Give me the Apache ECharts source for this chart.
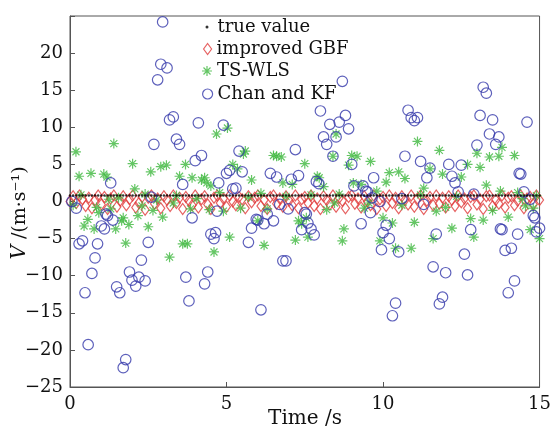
<!DOCTYPE html>
<html>
<head>
<meta charset="utf-8">
<script src="https://cdn.jsdelivr.net/npm/echarts@6/dist/echarts.min.js"></script>
<style>
  html, body { margin: 0; padding: 0; background: #fff; }
  #chart { width: 554px; height: 430px; }
</style>
</head>
<body>
<div id="chart"></div>
<script>
// time grid, 0.1 s step from 0 to 15 s
let timeStep = 0.1;
let nSteps = 151;
let trueValue = 0.8;

// improved GBF estimates, one per time step
let gbfValues = [
  0.0, 0.7, -0.2, 0.8, 0.3, -0.6, 0.5, -0.9, 0.2, 0.8,
  -0.4, 0.6, -1.0, 0.4, 0.8, -0.7, 0.1, 0.7, -0.5, 0.3,
  0.8, -0.8, -0.2, 0.6, -1.1, 0.5, 0.8, -0.3, 0.4, -0.9,
  0.7, 0.2, -0.6, 0.8, -0.2, 0.5, -1.0, 0.6, 0.1, -0.5,
  0.8, -0.8, 0.3, 0.7, -0.4, -1.0, 0.5, 0.8, -0.2, 0.4,
  -0.7, 0.8, 0.0, -0.5, 0.6, 0.3, -0.9, 0.7, -0.1, 0.5,
  0.8, -0.6, 0.2, -1.0, 0.6, 0.8, -0.3, 0.4, -0.7, 0.7,
  0.1, -0.5, 0.8, -0.9, 0.3, 0.6, -0.2, 0.8, -0.6, 0.4,
  -1.0, 0.7, 0.2, -0.4, 0.8, -0.7, 0.5, 0.1, -0.9, 0.6,
  0.8, -0.3, 0.4, -0.8, 0.7, 0.0, -0.5, 0.8, -1.0, 0.3,
  0.6, -0.6, 0.8, -0.2, 0.5, -0.9, 0.7, 0.2, -0.4, 0.8,
  -0.7, 0.4, 0.8, -1.0, 0.1, 0.6, -0.5, 0.8, -0.3, 0.5,
  -0.8, 0.7, 0.2, -0.6, 0.8, -0.1, 0.4, -0.9, 0.6, 0.8,
  -0.4, 0.3, -1.0, 0.7, 0.8, -0.6, 0.2, -0.3, 0.8, -0.8,
  0.5, 0.7, -0.5, 0.1, 0.8, -0.9, 0.4, 0.6, -0.4, 0.8,
  0.2
];

// TS-WLS estimates [time, value]
let tswlsPoints = [
  [0.1, -0.5], [0.19, 6.7], [0.29, 3.4], [0.35, 0.9], [0.45, -3.3], [0.57, -2.4], [0.67, 3.8],
  [0.77, -3.7], [0.85, -0.8], [0.92, -1.5], [1.08, 3.7], [1.18, 3.3], [1.24, 0.3], [1.3, -1.0],
  [1.4, 7.8], [1.46, -3.7], [1.55, 0.5], [1.65, -2.6], [1.7, -2.2], [1.78, -5.6], [1.88, -3.1],
  [2.0, 5.1], [2.07, 1.7], [2.17, -1.9], [2.3, -0.6], [2.4, 1.0], [2.5, -3.4], [2.58, 4.0],
  [2.65, -1.2], [2.77, 0.2], [2.9, 4.7], [2.96, -2.1], [3.08, 4.9], [3.18, -7.5], [3.3, -0.2],
  [3.4, 0.8], [3.5, 3.4], [3.6, -5.7], [3.69, 5.0], [3.75, -5.7], [3.85, -1.0], [3.9, 3.2],
  [4.05, 0.4], [4.2, 2.9], [4.3, 3.2], [4.37, 2.5], [4.45, -1.1], [4.5, 2.1], [4.6, -6.8],
  [4.68, 9.1], [4.78, 1.2], [4.9, -1.3], [5.03, 9.9], [5.1, -4.8], [5.2, 5.0], [5.35, 4.4],
  [5.45, -0.9], [5.54, 6.4], [5.6, 6.8], [5.7, 0.6], [5.8, 2.9], [6.0, -2.6], [6.1, 1.1],
  [6.2, -5.9], [6.3, -1.0], [6.5, 6.2], [6.6, 6.1], [6.75, 6.0], [6.8, 2.5], [6.9, 0.7],
  [7.1, 2.3], [7.2, -5.2], [7.3, -2.6], [7.4, -3.0], [7.5, 5.1], [7.55, -2.2], [7.6, -4.8],
  [7.7, 0.9], [7.9, 3.4], [7.96, 3.2], [8.1, 2.0], [8.2, -1.1], [8.4, 6.1], [8.45, -0.2],
  [8.5, 9.1], [8.6, 1.0], [8.7, -5.3], [8.75, -3.7], [8.9, 4.9], [9.0, 6.2], [9.05, 2.5],
  [9.17, 6.1], [9.3, 2.3], [9.4, -0.9], [9.55, -0.2], [9.6, 5.4], [9.8, 1.4], [9.9, -5.3],
  [10.0, -2.2], [10.1, 2.6], [10.2, 3.9], [10.3, -2.9], [10.4, -6.3], [10.5, 4.0], [10.6, -0.5],
  [10.7, 3.1], [10.9, -6.3], [11.0, -2.8], [11.1, 8.1], [11.2, 0.9], [11.3, 1.8], [11.5, 4.4],
  [11.6, -5.0], [11.7, -1.3], [11.8, 6.9], [11.9, 3.7], [12.0, -0.8], [12.2, -3.6], [12.35, 0.7],
  [12.5, 3.3], [12.7, 5.0], [12.8, -2.3], [12.9, -4.8], [13.0, 6.5], [13.1, 4.6], [13.2, -2.5],
  [13.3, 2.2], [13.4, 6.0], [13.5, -1.2], [13.7, 6.1], [13.75, 1.4], [13.8, 7.3], [14.0, -2.1],
  [14.2, 6.2], [14.3, 1.2], [14.45, 0.4], [14.55, -0.6], [14.7, -3.8], [14.8, -0.9], [14.9, 0.8],
  [15.0, -5.0]
];

// Chan and KF estimates [time, value]
let chanPoints = [
  [0.06, 0.0], [0.2, -0.9], [0.29, -5.7], [0.4, -5.3], [0.48, -12.3], [0.58, -19.3], [0.7, -9.7],
  [0.8, -7.6], [0.88, -5.7], [1.0, -3.3], [1.1, -3.7], [1.15, -1.7], [1.2, -1.9], [1.3, 2.5],
  [1.37, -2.5], [1.49, -11.5], [1.59, -12.3], [1.7, -22.4], [1.78, -21.3], [1.9, -9.5], [1.98, -10.6],
  [2.1, -11.4], [2.2, -10.2], [2.28, -7.9], [2.4, -10.7], [2.5, -5.5], [2.6, 0.6], [2.68, 7.7],
  [2.8, 16.4], [2.9, 18.5], [2.96, 24.2], [3.1, 18.0], [3.18, 11.0], [3.3, 11.4], [3.4, 8.4],
  [3.5, 7.7], [3.6, 2.3], [3.7, -10.2], [3.8, -13.4], [3.9, -2.2], [4.0, 5.5], [4.1, 10.6],
  [4.2, 6.2], [4.3, -11.1], [4.4, -9.5], [4.5, -4.4], [4.6, -5.0], [4.65, -4.2], [4.7, -1.3],
  [4.75, 2.5], [4.9, 10.3], [5.0, 3.8], [5.1, 4.2], [5.2, 1.7], [5.3, 1.8], [5.4, 6.8],
  [5.5, 4.0], [5.7, -5.5], [5.8, -3.6], [5.95, -2.4], [6.0, -2.5], [6.1, -14.6], [6.2, -3.0],
  [6.3, -1.7], [6.4, 3.8], [6.5, -2.6], [6.6, 3.3], [6.7, -0.4], [6.8, -8.0], [6.9, -8.0],
  [6.97, -1.0], [7.07, 3.0], [7.2, 7.0], [7.3, 3.5], [7.4, -3.8], [7.5, -1.5], [7.55, -1.7],
  [7.6, -2.9], [7.7, -3.7], [7.8, -4.5], [7.87, 2.7], [7.95, 2.4], [8.0, 12.2], [8.1, 8.7],
  [8.2, 7.7], [8.3, 10.4], [8.4, 6.1], [8.5, 8.7], [8.6, 10.7], [8.7, 16.2], [8.8, 11.6],
  [8.9, 9.8], [9.0, 5.0], [9.07, 2.1], [9.3, -3.0], [9.36, 2.1], [9.45, 1.4], [9.5, 1.3],
  [9.6, -1.5], [9.65, 0.5], [9.7, 3.2], [9.9, 0.0], [9.95, -6.5], [10.0, -4.2], [10.1, -3.2],
  [10.2, -5.0], [10.3, -15.4], [10.4, -13.7], [10.5, -6.8], [10.6, 0.4], [10.7, 6.1], [10.8, 12.3],
  [10.9, 11.3], [11.0, 10.9], [11.1, 11.3], [11.2, 5.4], [11.3, -0.4], [11.4, 3.2], [11.5, 4.5],
  [11.6, -8.8], [11.7, -4.4], [11.8, -13.8], [11.9, -12.9], [12.0, -9.6], [12.1, 5.0], [12.2, 3.4],
  [12.3, 2.5], [12.4, 1.3], [12.5, 4.9], [12.6, -7.1], [12.7, -9.9], [12.8, -3.8], [12.9, 1.0],
  [13.0, 7.6], [13.1, 11.6], [13.2, 15.4], [13.3, 14.6], [13.4, 9.1], [13.5, 11.0], [13.6, 7.7],
  [13.7, 8.7], [13.75, -3.7], [13.8, -3.8], [13.9, -6.6], [14.0, -12.3], [14.1, -6.3], [14.2, -10.7],
  [14.3, -4.4], [14.35, 3.8], [14.4, 3.7], [14.5, 1.3], [14.6, 10.7], [14.7, 0.3], [14.8, -1.9],
  [14.85, -2.2], [14.9, -4.1], [15.0, -3.6]
];

let xTicks = [0, 5, 10, 15];
let yTicks = [-25, -20, -15, -10, -5, 0, 5, 10, 15, 20];

let names = ['true value', 'improved GBF', 'TS-WLS', 'Chan and KF'];
let colors = { truth: '#000000', gbf: '#e03a3a', wls: '#3fb83f', chan: '#3538aa' };

let font = 'DejaVu Serif';

// MATLAB-like asterisk (all bars wound the same way so overlaps stay filled)
let asterisk = 'path://M-0.6,-5L0.6,-5L0.6,5L-0.6,5Z' +
  'M-5,-0.6L5,-0.6L5,0.6L-5,0.6Z' +
  'M-3.08,-3.92L3.92,3.08L3.08,3.92L-3.92,-3.08Z' +
  'M-3.92,3.08L3.08,-3.92L3.92,-3.08L-3.08,3.92Z';

let times = [];
for (let i = 0; i < nSteps; i++) times.push(+(i * timeStep).toFixed(1));

let truthData = times.map((t) => [t, trueValue]);
let gbfData = times.map((t, i) => [t, gbfValues[i]]);

let minus = (v) => (v < 0 ? '\u2212' + Math.abs(v) : String(v));

let legendCenterX = 207;
let legendRows = [27, 49, 71, 94];
let makeLegend = (idx, icon, w, h, style, padLeft) => ({
  data: [{ name: names[idx], icon: icon, itemStyle: style }],
  left: legendCenterX - w / 2,
  top: legendRows[idx] - 11,
  orient: 'vertical',
  itemWidth: w,
  itemHeight: h,
  padding: 0,
  selectedMode: false,
  textStyle: { fontFamily: font, fontSize: 18, color: '#111', padding: [0, 0, 0, padLeft], lineHeight: 22 }
});

let chart = echarts.init(document.getElementById('chart'));

chart.setOption({
  animation: false,
  backgroundColor: '#fff',
  grid: {
    left: 70, right: 13, top: 16, bottom: 43,
    show: true, borderColor: '#555', borderWidth: 1, backgroundColor: 'transparent'
  },
  legend: [
    makeLegend(0, 'circle', 3, 3, { color: colors.truth }, 4),
    makeLegend(1, 'diamond', 8, 11, { color: 'transparent', borderColor: colors.gbf, borderWidth: 1.2 }, 0),
    makeLegend(2, asterisk, 10, 10, { color: colors.wls }, 0),
    makeLegend(3, 'circle', 10, 10, { color: 'transparent', borderColor: colors.chan, borderWidth: 1.2 }, 0)
  ],
  xAxis: {
    type: 'value', min: 0, max: 15, interval: 5,
    axisLine: { show: true, onZero: false, lineStyle: { color: '#555' } },
    axisTick: { show: true, inside: true, length: 5, lineStyle: { color: '#555' } },
    splitLine: { show: false },
    axisLabel: {
      fontFamily: font, fontSize: 18, color: '#111', margin: 8,
      formatter: (v) => (xTicks.includes(v) ? minus(v) : '')
    }
  },
  yAxis: {
    type: 'value', min: -25, max: 25, interval: 5,
    axisLine: { show: true, onZero: false, lineStyle: { color: '#555' } },
    axisTick: { show: true, inside: true, length: 5, lineStyle: { color: '#555' } },
    splitLine: { show: false },
    axisLabel: {
      fontFamily: font, fontSize: 18, color: '#111', margin: 7,
      formatter: (v) => (yTicks.includes(v) ? minus(v) : '')
    }
  },
  graphic: [
    {
      type: 'text', x: 20, y: 213, rotation: Math.PI / 2,
      style: {
        text: '{i|V}{n| /(m\u00b7s\u207b\u00b9)}',
        align: 'center', verticalAlign: 'middle',
        rich: {
          i: { fontFamily: font, fontSize: 20, fontStyle: 'italic', fill: '#111' },
          n: { fontFamily: font, fontSize: 19, fill: '#111' }
        }
      }
    },
    {
      type: 'text', x: 305, y: 419,
      style: { text: 'Time /s', fontFamily: font, fontSize: 20, fill: '#111', align: 'center', verticalAlign: 'middle' }
    }
  ],
  series: [
    {
      name: names[1], type: 'scatter', data: gbfData, symbol: 'diamond', symbolSize: [8, 11],
      itemStyle: { color: 'transparent', borderColor: colors.gbf, borderWidth: 1.2 }, z: 2
    },
    {
      name: names[2], type: 'scatter', data: tswlsPoints, symbol: asterisk, symbolSize: 10,
      itemStyle: { color: colors.wls }, z: 3
    },
    {
      name: names[3], type: 'scatter', data: chanPoints, symbol: 'circle', symbolSize: 10.5,
      itemStyle: { color: 'transparent', borderColor: colors.chan, borderWidth: 1.2 }, z: 4
    },
    {
      name: names[0], type: 'scatter', data: truthData, symbol: 'circle', symbolSize: 2.5,
      itemStyle: { color: colors.truth }, z: 5
    }
  ]
});
</script>
</body>
</html>
